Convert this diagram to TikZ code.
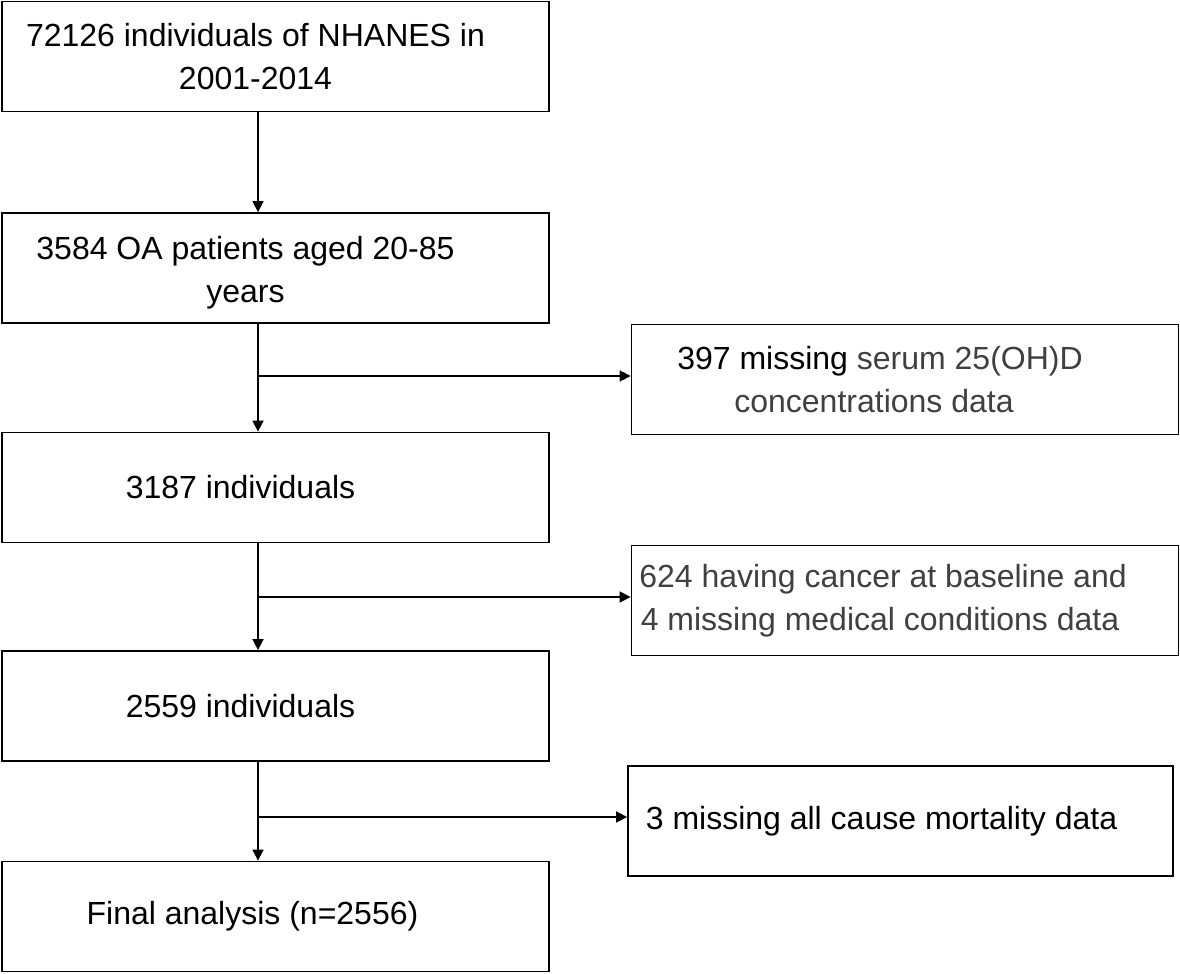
\documentclass[tikz,border=0pt]{standalone}
\usepackage{fontspec}
\setmainfont{Liberation Sans}
\usetikzlibrary{arrows.meta,calc,positioning}
\definecolor{txtgray}{HTML}{404040}
\newcommand{\lft}[1]{\hspace*{-#1pt}}
\begin{document}
\begin{tikzpicture}[x=0.5pt,y=-0.5pt,>={Triangle[length=5.5pt,width=5.5pt]},
 every node/.style={font=\fontsize{16}{21.5}\selectfont},
 box/.style={draw,line width=0.9pt,align=center,inner sep=0pt,minimum width=273.5pt,minimum height=55pt},
 flow/.style={->,line width=0.8pt}]
\useasboundingbox (0,0) rectangle (1180,974);
\node[box] (all) at (275.5,56.5) {\lft{20}72126 individuals of NHANES in\\\lft{20}2001-2014};
\node[box] (oa) at (275.5,268) {\rule{0pt}{16pt}\lft{30}3584 OA patients aged 20-85\\\lft{30}years};
\node[box] (vitd) at (905,379.5) {\lft{25}397 missing {\color{txtgray}serum 25(OH)D}\\\lft{31}{\color{txtgray}concentrations data}};
\node[box] (n1) at (275.5,487.5) {\lft{35}3187 individuals};
\node[box,text=txtgray] (canc) at (905,600.5) {\lft{22}624 having cancer at baseline and\\\lft{25}4 missing medical conditions data};
\node[box] (n2) at (275.5,706) {\lft{35}2559 individuals};
\node[box,minimum width=272.5pt] (mort) at (900.5,821) {\lft{19}3 missing all cause mortality data};
\node[box] (fin) at (275.5,916.5) {\lft{23}Final analysis (n=2556)};
% main line and exclusions
\coordinate (j1) at (258,376);\coordinate (j2) at (258,597);\coordinate (j3) at (258,817);
\draw[flow] (all.south -| j1) -- (oa.north -| j1);
\draw[flow] (oa.south -| j1) -- (n1.north -| j1);\draw[flow] (j1) -- (j1 -| vitd.west);
\draw[flow] (n1.south -| j2) -- (n2.north -| j2);\draw[flow] (j2) -- (j2 -| canc.west);
\draw[flow] (n2.south -| j3) -- (fin.north -| j3);\draw[flow] (j3) -- (j3 -| mort.west);
\end{tikzpicture}
\end{document}
